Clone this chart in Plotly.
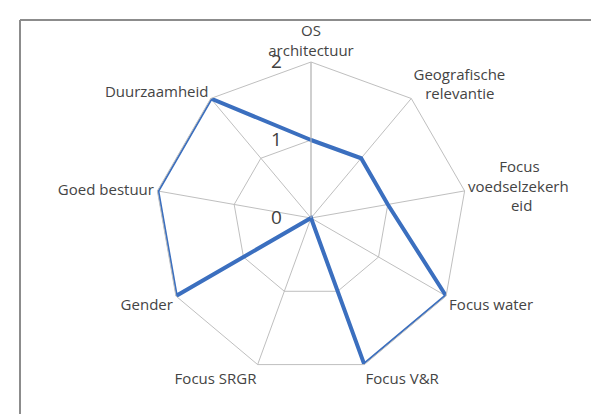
import plotly.graph_objects as go

NB = "\u00a0"
categories = ["OS<br>architectuur",
              "Geografische<br>" + NB * 3 + "relevantie",
              NB * 8 + "Focus<br>voedselzekerh<br>" + NB * 11 + "eid",
              "Focus water", "Focus V&R", "Focus SRGR", "Gender", "Goed bestuur", "Duurzaamheid"]
values = [1, 1, 1, 2, 2, 0, 2, 2, 2]
tick_vals = [0, 1, 2]
tick_text = ["0", "1", "2"]

W, H = 599, 414
cx, cy, R = 303, 210, 156

fig = go.Figure()
fig.add_trace(go.Scatterpolar(
    r=values + values[:1],
    theta=categories + categories[:1],
    mode="lines",
    line=dict(color="#3b6fbf", width=4),
    hoverinfo="skip",
    showlegend=False,
))

fig.update_layout(
    width=W, height=H,
    margin=dict(l=0, r=0, t=0, b=0),
    paper_bgcolor="white",
    font=dict(family="Open Sans, Liberation Sans, sans-serif", color="#404040"),
    polar=dict(
        domain=dict(x=[(cx - R) / W, (cx + R) / W], y=[(H - cy - R) / H, (H - cy + R) / H]),
        gridshape="linear",
        bgcolor="white",
        angularaxis=dict(
            direction="clockwise", rotation=90,
            showline=True, linecolor="#bfbfbf", linewidth=1,
            gridcolor="#bfbfbf", gridwidth=1,
            ticks="", tickfont=dict(size=15, color="#444444"),
        ),
        radialaxis=dict(
            range=[0, 2], angle=90, tickangle=90,
            tickvals=tick_vals, ticktext=tick_text,
            showline=True, linecolor="#bfbfbf", linewidth=1,
            gridcolor="#bfbfbf", gridwidth=1,
            ticks="outside", ticklen=22, tickcolor="rgba(0,0,0,0)",
            side="counterclockwise",
            tickfont=dict(size=19, color="#404040"),
        ),
    ),
    shapes=[
        dict(type="line", xref="paper", yref="paper", x0=12 / W, x1=12 / W, y0=0, y1=1 - 12 / H,
             line=dict(color="#8c8c8c", width=2)),
        dict(type="line", xref="paper", yref="paper", x0=12 / W, x1=1, y0=1 - 12 / H, y1=1 - 12 / H,
             line=dict(color="#8c8c8c", width=2)),
        dict(type="line", xref="paper", yref="paper", x0=591 / W, x1=591 / W, y0=0, y1=1 - 12 / H,
             line=dict(color="#e6e6e6", width=1)),
    ],
)

fig.write_html("out.html")
